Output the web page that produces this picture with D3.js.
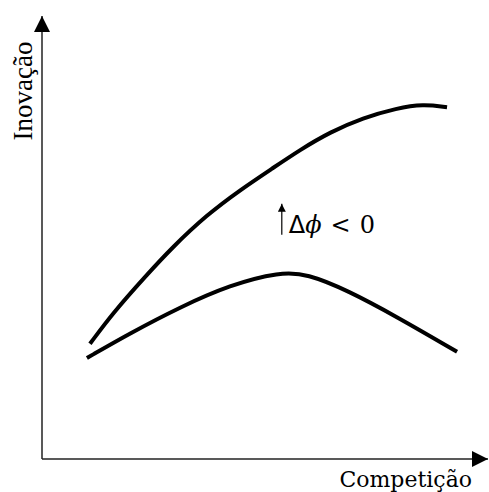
<!DOCTYPE html>
<html>
<head>
<meta charset="utf-8">
<script src="https://cdn.jsdelivr.net/npm/d3@7"></script>
<style>
  body { margin: 0; background: #fff; }
</style>
</head>
<body>
<script>
var width = 489;
var height = 492;

// ------- data --------
var upperX = [11.0, 16.3, 23.6, 30.0, 37.8, 45.4, 53.0, 59.2, 66.1, 73.6, 81.4, 87.4, 92.9];
var upperY = [26.0, 33.0, 41.1, 47.9, 55.1, 60.7, 65.7, 69.8, 73.8, 77.0, 79.2, 80.1, 79.4];

var lowerX = [10.3, 20.2, 31.7, 43.1, 54.6, 60.8, 70.0, 81.4, 95.2];
var lowerY = [22.8, 28.4, 34.3, 39.3, 42.2, 41.8, 38.1, 32.1, 24.2];

var xLabel = 'Competição';
var yLabel = 'Inovação';

// shift annotation: arrow from -> to
var shiftX = 55.0;
var shiftY = [50.6, 57.6];

// ------- svg --------
var svg = d3.select('body')
    .append('svg')
    .attr('width', width)
    .attr('height', height);

var x = d3.scaleLinear().domain([0, 100]).range([42, 478]),
    y = d3.scaleLinear().domain([0, 100]).range([459, 16]);

var defs = svg.append('defs');
defs.append('marker')
    .attr('id', 'arrow')
    .attr('viewBox', '0 0 10 10')
    .attr('refX', 10)
    .attr('refY', 5)
    .attr('markerWidth', 16)
    .attr('markerHeight', 16)
    .attr('markerUnits', 'userSpaceOnUse')
    .attr('orient', 'auto')
    .append('path')
    .attr('d', 'M0,0 L10,5 L0,10 Z')
    .attr('fill', '#000');

defs.append('marker')
    .attr('id', 'smallarrow')
    .attr('viewBox', '0 0 10 10')
    .attr('refX', 10)
    .attr('refY', 5)
    .attr('markerWidth', 8)
    .attr('markerHeight', 8)
    .attr('markerUnits', 'userSpaceOnUse')
    .attr('orient', 'auto')
    .append('path')
    .attr('d', 'M0,0 L10,5 L0,10 Z')
    .attr('fill', '#000');

// axes (no ticks, just the line)
var xAxis = svg.append('g')
    .attr('transform', 'translate(0,' + y(0) + ')')
    .call(d3.axisBottom(x).ticks(0).tickSizeOuter(0));
xAxis.select('.domain')
    .attr('stroke', '#222')
    .attr('stroke-width', 1.5)
    .attr('d', 'M' + x(0) + ',0H' + (width - 1))
    .attr('marker-end', 'url(#arrow)');

var yAxis = svg.append('g')
    .attr('transform', 'translate(' + x(0) + ',0)')
    .call(d3.axisLeft(y).ticks(0).tickSizeOuter(0));
yAxis.select('.domain')
    .attr('stroke', '#222')
    .attr('stroke-width', 1.5)
    .attr('d', 'M0,' + y(0) + 'V' + 16)
    .attr('marker-end', 'url(#arrow)');

// axis labels
svg.append('text')
    .attr('x', 472)
    .attr('y', 487)
    .attr('text-anchor', 'end')
    .style('font-family', '"DejaVu Serif", serif')
    .style('font-size', '22px')
    .attr('fill', '#000')
    .text(xLabel);

svg.append('text')
    .attr('transform', 'translate(32,91) rotate(-90)')
    .attr('text-anchor', 'middle')
    .style('font-family', '"Liberation Serif", serif')
    .style('font-size', '27px')
    .attr('fill', '#000')
    .text(yLabel);

// curves
var line = d3.line()
    .x(function(d) { return x(d[0]); })
    .y(function(d) { return y(d[1]); })
    .curve(d3.curveBasis);

[d3.zip(upperX, upperY), d3.zip(lowerX, lowerY)].forEach(function(pts) {
    svg.append('path')
        .datum(pts)
        .attr('d', line)
        .attr('fill', 'none')
        .attr('stroke', '#000')
        .attr('stroke-width', 4);
});

// annotation
svg.append('line')
    .attr('x1', x(shiftX))
    .attr('x2', x(shiftX))
    .attr('y1', y(shiftY[0]))
    .attr('y2', y(shiftY[1]))
    .attr('stroke', '#000')
    .attr('stroke-width', 1.2)
    .attr('marker-end', 'url(#smallarrow)');

var ann = svg.append('text')
    .attr('x', x(shiftX) + 7)
    .attr('y', y(shiftY[0]) - 2)
    .style('font-family', '"DejaVu Serif", serif')
    .style('font-size', '24px')
    .attr('fill', '#000');
ann.append('tspan').style('font-family', '"DejaVu Sans", sans-serif').text('Δ');
ann.append('tspan').style('font-style', 'italic').text('ϕ');
ann.append('tspan').attr('dx', 9).text('<');
ann.append('tspan').attr('dx', 9).text('0');
</script>
</body>
</html>
